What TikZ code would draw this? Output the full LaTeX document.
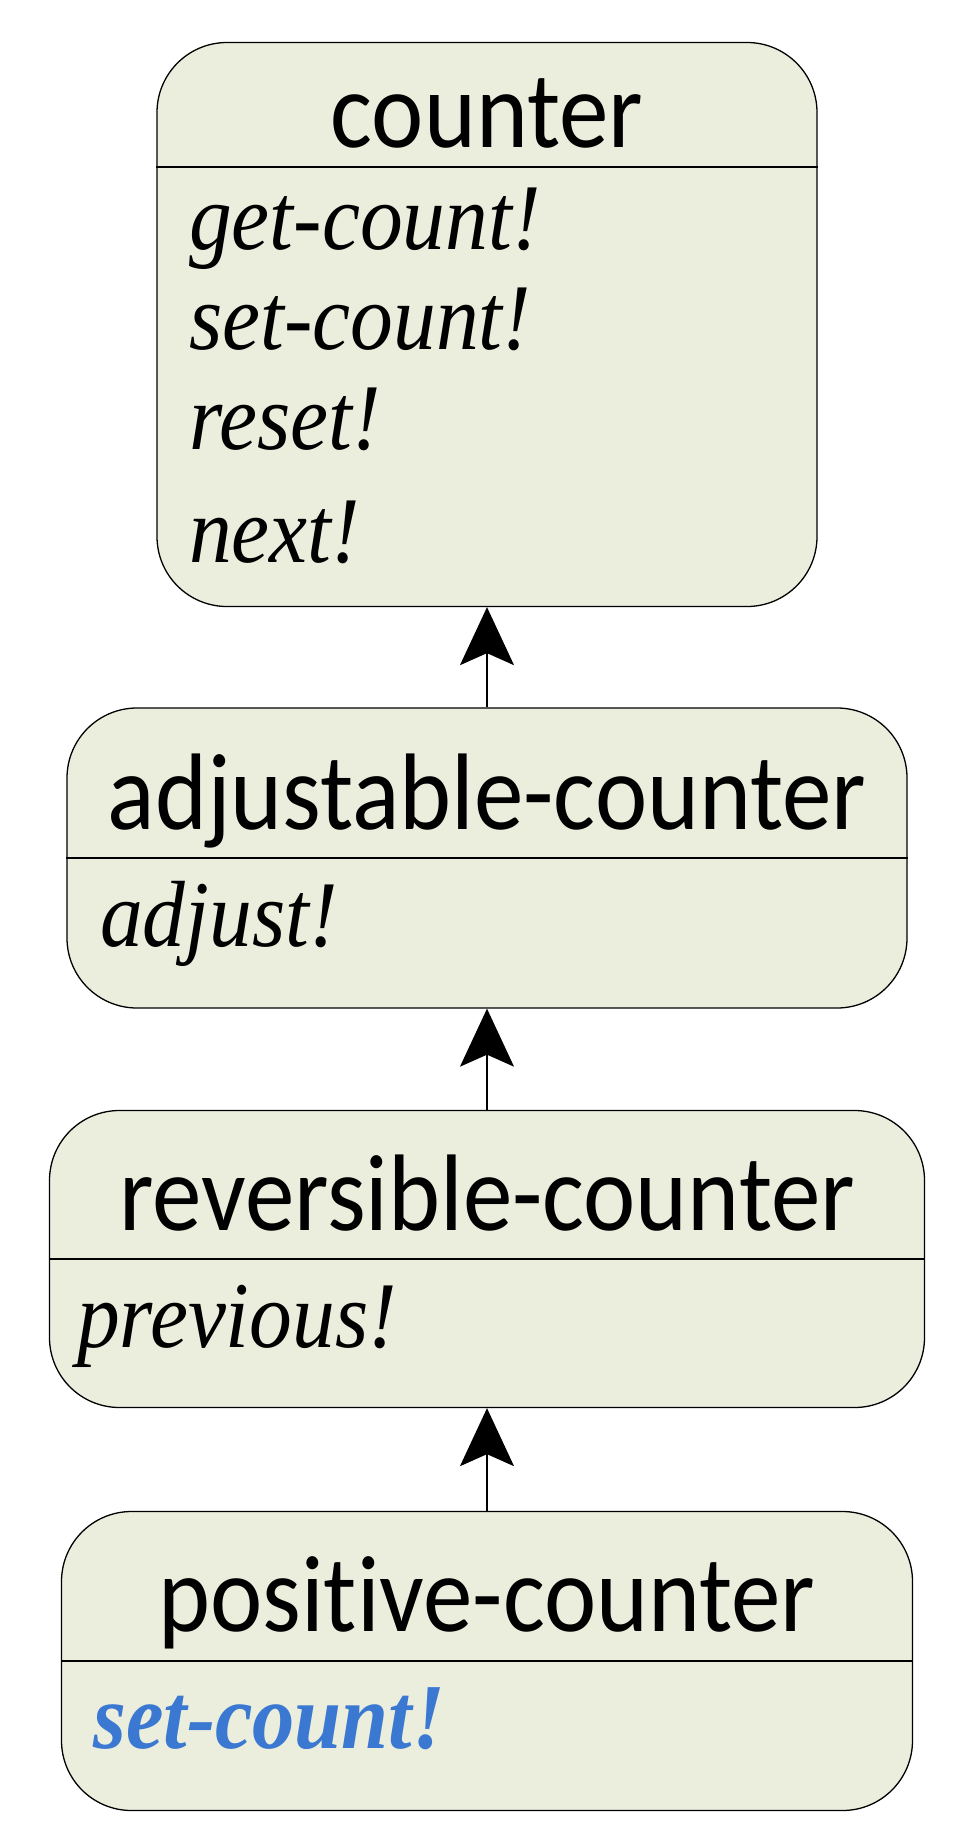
\documentclass[tikz,border=0pt]{standalone}
\usepackage{fontspec}
\usetikzlibrary{arrows.meta}
\setmainfont{Liberation Serif}
\newfontfamily\titlefont[Ligatures=NoCommon]{Carlito}
\newfontfamily\opfont{Liberation Serif}
\definecolor{boxfill}{RGB}{235,238,221}
\definecolor{opblue}{RGB}{58,120,210}
\tikzset{
  classbox/.style={draw, line width=1.3pt, fill=boxfill, rounded corners=70pt, inner sep=0pt},
  classname/.style={anchor=base, inner sep=0pt, yscale=1.1, font=\titlefont\fontsize{99}{100}\selectfont},
  opname/.style={anchor=base west, inner sep=0pt, yscale=1.1, font=\opfont\itshape\fontsize{85.5}{87}\selectfont},
  inherit/.style={-{Stealth[length=58pt, width=54pt, inset=12pt]}, line width=1.3pt}
}
\begin{document}
\begin{tikzpicture}[x=1pt, y=1pt]
  \useasboundingbox (0,0) rectangle (963,-1844);

  % Boxes
  \node[classbox, minimum width=660pt, minimum height=564pt] (cnt) at (487,-324.5) {};
  \node[classbox, minimum width=840pt, minimum height=300pt] (adj) at (487,-858) {};
  \node[classbox, minimum width=875pt, minimum height=297pt] (rev) at (487,-1259) {};
  \node[classbox, minimum width=851pt, minimum height=299pt] (pos) at (487,-1661) {};

  % Dividers
  \draw[line width=1.3pt] (cnt.west |- 0,-167) -- (cnt.east |- 0,-167);
  \draw[line width=1.3pt] (adj.west |- 0,-858) -- (adj.east |- 0,-858);
  \draw[line width=1.3pt] (rev.west |- 0,-1259) -- (rev.east |- 0,-1259);
  \draw[line width=1.3pt] (pos.west |- 0,-1661) -- (pos.east |- 0,-1661);

  % Class names
  \node[classname] (cntName) at (487,-147) {counter};
  \node[classname] (adjName) at (487,-829) {adjustable-counter};
  \node[classname] (revName) at (487,-1230) {reversible-counter};
  \node[classname] (posName) at (487,-1631) {positive-counter};

  % Operations
  \node[opname] (cntGet) at (189,-249) {get-count!};
  \node[opname] (cntSet) at (189,-349) {set-count!};
  \node[opname] (cntReset) at (189,-449) {reset!};
  \node[opname] (cntNext) at (189,-562) {next!};
  \node[opname] (adjAdjust) at (100,-946) {adjust!};
  \node[opname] (revPrev) at (77,-1347) {previous!};
  \node[opname, text=opblue, font=\opfont\bfseries\itshape\fontsize{84.5}{86}\selectfont] (posSet) at (93,-1748) {set-count!};

  % Inheritance
  \draw[inherit] (adj.north) -- (cnt.south);
  \draw[inherit] (rev.north) -- (adj.south);
  \draw[inherit] (pos.north) -- (rev.south);
\end{tikzpicture}
\end{document}
